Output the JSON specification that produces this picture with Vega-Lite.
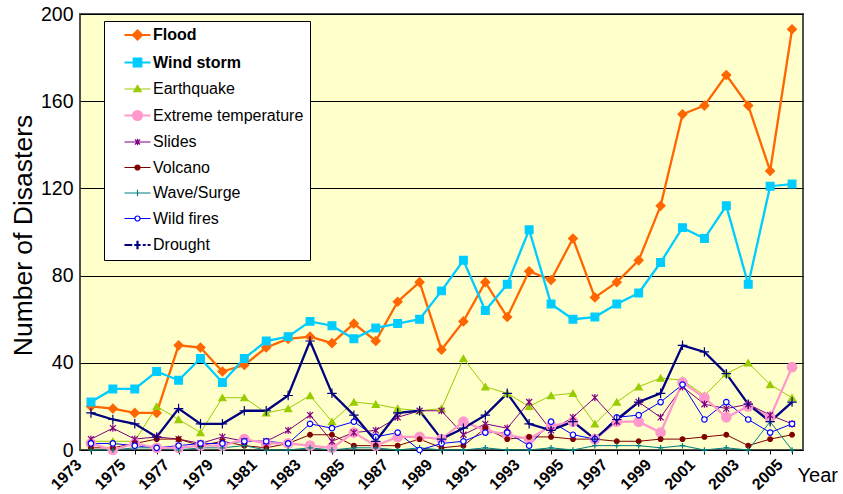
{
  "$schema": "https://vega.github.io/schema/vega-lite/v6.json",
  "width": 723,
  "height": 436,
  "autosize": {"type": "none"},
  "padding": {"left": 80, "top": 14, "right": 40, "bottom": 44},
  "background": "white",
  "config": {
    "font": "Liberation Sans",
    "view": {"fill": "#FFFFCC", "stroke": "#505050", "strokeWidth": 2},
    "axis": {"labelFont": "Liberation Sans", "titleFont": "Liberation Sans", "labelColor": "black", "titleColor": "black"}
  },
  "datasets": {
    "disasters": [
      {"year":1973,"type":"Flood","count":20},{"year":1974,"type":"Flood","count":19},{"year":1975,"type":"Flood","count":17},{"year":1976,"type":"Flood","count":17},{"year":1977,"type":"Flood","count":48},{"year":1978,"type":"Flood","count":47},{"year":1979,"type":"Flood","count":36},{"year":1980,"type":"Flood","count":39},{"year":1981,"type":"Flood","count":47},{"year":1982,"type":"Flood","count":51},{"year":1983,"type":"Flood","count":52},{"year":1984,"type":"Flood","count":49},{"year":1985,"type":"Flood","count":58},{"year":1986,"type":"Flood","count":50},{"year":1987,"type":"Flood","count":68},{"year":1988,"type":"Flood","count":77},{"year":1989,"type":"Flood","count":46},{"year":1990,"type":"Flood","count":59},{"year":1991,"type":"Flood","count":77},{"year":1992,"type":"Flood","count":61},{"year":1993,"type":"Flood","count":82},{"year":1994,"type":"Flood","count":78},{"year":1995,"type":"Flood","count":97},{"year":1996,"type":"Flood","count":70},{"year":1997,"type":"Flood","count":77},{"year":1998,"type":"Flood","count":87},{"year":1999,"type":"Flood","count":112},{"year":2000,"type":"Flood","count":154},{"year":2001,"type":"Flood","count":158},{"year":2002,"type":"Flood","count":172},{"year":2003,"type":"Flood","count":158},{"year":2004,"type":"Flood","count":128},{"year":2005,"type":"Flood","count":193},
      {"year":1973,"type":"Wind storm","count":22},{"year":1974,"type":"Wind storm","count":28},{"year":1975,"type":"Wind storm","count":28},{"year":1976,"type":"Wind storm","count":36},{"year":1977,"type":"Wind storm","count":32},{"year":1978,"type":"Wind storm","count":42},{"year":1979,"type":"Wind storm","count":31},{"year":1980,"type":"Wind storm","count":42},{"year":1981,"type":"Wind storm","count":50},{"year":1982,"type":"Wind storm","count":52},{"year":1983,"type":"Wind storm","count":59},{"year":1984,"type":"Wind storm","count":57},{"year":1985,"type":"Wind storm","count":51},{"year":1986,"type":"Wind storm","count":56},{"year":1987,"type":"Wind storm","count":58},{"year":1988,"type":"Wind storm","count":60},{"year":1989,"type":"Wind storm","count":73},{"year":1990,"type":"Wind storm","count":87},{"year":1991,"type":"Wind storm","count":64},{"year":1992,"type":"Wind storm","count":76},{"year":1993,"type":"Wind storm","count":101},{"year":1994,"type":"Wind storm","count":67},{"year":1995,"type":"Wind storm","count":60},{"year":1996,"type":"Wind storm","count":61},{"year":1997,"type":"Wind storm","count":67},{"year":1998,"type":"Wind storm","count":72},{"year":1999,"type":"Wind storm","count":86},{"year":2000,"type":"Wind storm","count":102},{"year":2001,"type":"Wind storm","count":97},{"year":2002,"type":"Wind storm","count":112},{"year":2003,"type":"Wind storm","count":76},{"year":2004,"type":"Wind storm","count":121},{"year":2005,"type":"Wind storm","count":122},
      {"year":1973,"type":"Earthquake","count":4},{"year":1974,"type":"Earthquake","count":4},{"year":1975,"type":"Earthquake","count":4},{"year":1976,"type":"Earthquake","count":20},{"year":1977,"type":"Earthquake","count":14},{"year":1978,"type":"Earthquake","count":8},{"year":1979,"type":"Earthquake","count":24},{"year":1980,"type":"Earthquake","count":24},{"year":1981,"type":"Earthquake","count":17},{"year":1982,"type":"Earthquake","count":19},{"year":1983,"type":"Earthquake","count":25},{"year":1984,"type":"Earthquake","count":13},{"year":1985,"type":"Earthquake","count":22},{"year":1986,"type":"Earthquake","count":21},{"year":1987,"type":"Earthquake","count":19},{"year":1988,"type":"Earthquake","count":18},{"year":1989,"type":"Earthquake","count":19},{"year":1990,"type":"Earthquake","count":42},{"year":1991,"type":"Earthquake","count":29},{"year":1992,"type":"Earthquake","count":26},{"year":1993,"type":"Earthquake","count":20},{"year":1994,"type":"Earthquake","count":25},{"year":1995,"type":"Earthquake","count":26},{"year":1996,"type":"Earthquake","count":12},{"year":1997,"type":"Earthquake","count":22},{"year":1998,"type":"Earthquake","count":29},{"year":1999,"type":"Earthquake","count":33},{"year":2000,"type":"Earthquake","count":32},{"year":2001,"type":"Earthquake","count":25},{"year":2002,"type":"Earthquake","count":35},{"year":2003,"type":"Earthquake","count":40},{"year":2004,"type":"Earthquake","count":30},{"year":2005,"type":"Earthquake","count":24},
      {"year":1973,"type":"Extreme temperature","count":3},{"year":1974,"type":"Extreme temperature","count":0},{"year":1975,"type":"Extreme temperature","count":3},{"year":1976,"type":"Extreme temperature","count":1},{"year":1977,"type":"Extreme temperature","count":1},{"year":1978,"type":"Extreme temperature","count":2},{"year":1979,"type":"Extreme temperature","count":2},{"year":1980,"type":"Extreme temperature","count":5},{"year":1981,"type":"Extreme temperature","count":3},{"year":1982,"type":"Extreme temperature","count":3},{"year":1983,"type":"Extreme temperature","count":2},{"year":1984,"type":"Extreme temperature","count":1},{"year":1985,"type":"Extreme temperature","count":8},{"year":1986,"type":"Extreme temperature","count":2},{"year":1987,"type":"Extreme temperature","count":6},{"year":1988,"type":"Extreme temperature","count":6},{"year":1989,"type":"Extreme temperature","count":5},{"year":1990,"type":"Extreme temperature","count":13},{"year":1991,"type":"Extreme temperature","count":9},{"year":1992,"type":"Extreme temperature","count":7},{"year":1993,"type":"Extreme temperature","count":5},{"year":1994,"type":"Extreme temperature","count":11},{"year":1995,"type":"Extreme temperature","count":13},{"year":1996,"type":"Extreme temperature","count":5},{"year":1997,"type":"Extreme temperature","count":13},{"year":1998,"type":"Extreme temperature","count":13},{"year":1999,"type":"Extreme temperature","count":8},{"year":2000,"type":"Extreme temperature","count":31},{"year":2001,"type":"Extreme temperature","count":24},{"year":2002,"type":"Extreme temperature","count":15},{"year":2003,"type":"Extreme temperature","count":20},{"year":2004,"type":"Extreme temperature","count":15},{"year":2005,"type":"Extreme temperature","count":38},
      {"year":1973,"type":"Slides","count":5},{"year":1974,"type":"Slides","count":10},{"year":1975,"type":"Slides","count":5},{"year":1976,"type":"Slides","count":6},{"year":1977,"type":"Slides","count":5},{"year":1978,"type":"Slides","count":3},{"year":1979,"type":"Slides","count":6},{"year":1980,"type":"Slides","count":4},{"year":1981,"type":"Slides","count":4},{"year":1982,"type":"Slides","count":9},{"year":1983,"type":"Slides","count":16},{"year":1984,"type":"Slides","count":4},{"year":1985,"type":"Slides","count":8},{"year":1986,"type":"Slides","count":9},{"year":1987,"type":"Slides","count":15},{"year":1988,"type":"Slides","count":18},{"year":1989,"type":"Slides","count":18},{"year":1990,"type":"Slides","count":7},{"year":1991,"type":"Slides","count":12},{"year":1992,"type":"Slides","count":10},{"year":1993,"type":"Slides","count":22},{"year":1994,"type":"Slides","count":9},{"year":1995,"type":"Slides","count":15},{"year":1996,"type":"Slides","count":24},{"year":1997,"type":"Slides","count":13},{"year":1998,"type":"Slides","count":22},{"year":1999,"type":"Slides","count":15},{"year":2000,"type":"Slides","count":29},{"year":2001,"type":"Slides","count":21},{"year":2002,"type":"Slides","count":19},{"year":2003,"type":"Slides","count":21},{"year":2004,"type":"Slides","count":16},{"year":2005,"type":"Slides","count":12},
      {"year":1973,"type":"Volcano","count":1},{"year":1974,"type":"Volcano","count":1},{"year":1975,"type":"Volcano","count":3},{"year":1976,"type":"Volcano","count":5},{"year":1977,"type":"Volcano","count":5},{"year":1978,"type":"Volcano","count":2},{"year":1979,"type":"Volcano","count":4},{"year":1980,"type":"Volcano","count":2},{"year":1981,"type":"Volcano","count":1},{"year":1982,"type":"Volcano","count":3},{"year":1983,"type":"Volcano","count":7},{"year":1984,"type":"Volcano","count":7},{"year":1985,"type":"Volcano","count":2},{"year":1986,"type":"Volcano","count":2},{"year":1987,"type":"Volcano","count":2},{"year":1988,"type":"Volcano","count":5},{"year":1989,"type":"Volcano","count":1},{"year":1990,"type":"Volcano","count":2},{"year":1991,"type":"Volcano","count":10},{"year":1992,"type":"Volcano","count":5},{"year":1993,"type":"Volcano","count":6},{"year":1994,"type":"Volcano","count":6},{"year":1995,"type":"Volcano","count":5},{"year":1996,"type":"Volcano","count":5},{"year":1997,"type":"Volcano","count":4},{"year":1998,"type":"Volcano","count":4},{"year":1999,"type":"Volcano","count":5},{"year":2000,"type":"Volcano","count":5},{"year":2001,"type":"Volcano","count":6},{"year":2002,"type":"Volcano","count":7},{"year":2003,"type":"Volcano","count":2},{"year":2004,"type":"Volcano","count":5},{"year":2005,"type":"Volcano","count":7},
      {"year":1973,"type":"Wave/Surge","count":0},{"year":1974,"type":"Wave/Surge","count":0},{"year":1975,"type":"Wave/Surge","count":1},{"year":1976,"type":"Wave/Surge","count":1},{"year":1977,"type":"Wave/Surge","count":0},{"year":1978,"type":"Wave/Surge","count":1},{"year":1979,"type":"Wave/Surge","count":1},{"year":1980,"type":"Wave/Surge","count":2},{"year":1981,"type":"Wave/Surge","count":0},{"year":1982,"type":"Wave/Surge","count":0},{"year":1983,"type":"Wave/Surge","count":1},{"year":1984,"type":"Wave/Surge","count":0},{"year":1985,"type":"Wave/Surge","count":1},{"year":1986,"type":"Wave/Surge","count":1},{"year":1987,"type":"Wave/Surge","count":0},{"year":1988,"type":"Wave/Surge","count":1},{"year":1989,"type":"Wave/Surge","count":0},{"year":1990,"type":"Wave/Surge","count":0},{"year":1991,"type":"Wave/Surge","count":1},{"year":1992,"type":"Wave/Surge","count":0},{"year":1993,"type":"Wave/Surge","count":0},{"year":1994,"type":"Wave/Surge","count":1},{"year":1995,"type":"Wave/Surge","count":0},{"year":1996,"type":"Wave/Surge","count":2},{"year":1997,"type":"Wave/Surge","count":2},{"year":1998,"type":"Wave/Surge","count":2},{"year":1999,"type":"Wave/Surge","count":1},{"year":2000,"type":"Wave/Surge","count":2},{"year":2001,"type":"Wave/Surge","count":0},{"year":2002,"type":"Wave/Surge","count":1},{"year":2003,"type":"Wave/Surge","count":0},{"year":2004,"type":"Wave/Surge","count":13},{"year":2005,"type":"Wave/Surge","count":0},
      {"year":1973,"type":"Wild fires","count":3},{"year":1974,"type":"Wild fires","count":3},{"year":1975,"type":"Wild fires","count":2},{"year":1976,"type":"Wild fires","count":1},{"year":1977,"type":"Wild fires","count":2},{"year":1978,"type":"Wild fires","count":3},{"year":1979,"type":"Wild fires","count":3},{"year":1980,"type":"Wild fires","count":4},{"year":1981,"type":"Wild fires","count":4},{"year":1982,"type":"Wild fires","count":3},{"year":1983,"type":"Wild fires","count":12},{"year":1984,"type":"Wild fires","count":10},{"year":1985,"type":"Wild fires","count":13},{"year":1986,"type":"Wild fires","count":6},{"year":1987,"type":"Wild fires","count":8},{"year":1988,"type":"Wild fires","count":0},{"year":1989,"type":"Wild fires","count":3},{"year":1990,"type":"Wild fires","count":4},{"year":1991,"type":"Wild fires","count":8},{"year":1992,"type":"Wild fires","count":8},{"year":1993,"type":"Wild fires","count":2},{"year":1994,"type":"Wild fires","count":13},{"year":1995,"type":"Wild fires","count":7},{"year":1996,"type":"Wild fires","count":5},{"year":1997,"type":"Wild fires","count":15},{"year":1998,"type":"Wild fires","count":16},{"year":1999,"type":"Wild fires","count":22},{"year":2000,"type":"Wild fires","count":30},{"year":2001,"type":"Wild fires","count":14},{"year":2002,"type":"Wild fires","count":22},{"year":2003,"type":"Wild fires","count":14},{"year":2004,"type":"Wild fires","count":8},{"year":2005,"type":"Wild fires","count":12},
      {"year":1973,"type":"Drought","count":17},{"year":1974,"type":"Drought","count":14},{"year":1975,"type":"Drought","count":12},{"year":1976,"type":"Drought","count":6},{"year":1977,"type":"Drought","count":19},{"year":1978,"type":"Drought","count":12},{"year":1979,"type":"Drought","count":12},{"year":1980,"type":"Drought","count":18},{"year":1981,"type":"Drought","count":18},{"year":1982,"type":"Drought","count":25},{"year":1983,"type":"Drought","count":50},{"year":1984,"type":"Drought","count":26},{"year":1985,"type":"Drought","count":16},{"year":1986,"type":"Drought","count":4},{"year":1987,"type":"Drought","count":17},{"year":1988,"type":"Drought","count":18},{"year":1989,"type":"Drought","count":5},{"year":1990,"type":"Drought","count":10},{"year":1991,"type":"Drought","count":16},{"year":1992,"type":"Drought","count":26},{"year":1993,"type":"Drought","count":12},{"year":1994,"type":"Drought","count":9},{"year":1995,"type":"Drought","count":13},{"year":1996,"type":"Drought","count":5},{"year":1997,"type":"Drought","count":14},{"year":1998,"type":"Drought","count":22},{"year":1999,"type":"Drought","count":26},{"year":2000,"type":"Drought","count":48},{"year":2001,"type":"Drought","count":45},{"year":2002,"type":"Drought","count":35},{"year":2003,"type":"Drought","count":21},{"year":2004,"type":"Drought","count":13},{"year":2005,"type":"Drought","count":22}
    ]
  },
  "data": {"name": "disasters"},
  "encoding": {
    "x": {
      "field": "year", "type": "ordinal",
      "scale": {"padding": 0.5},
      "axis": {
        "title": "Year", "titleFontSize": 20, "titleFontWeight": "normal",
        "titleAlign": "left", "titleBaseline": "alphabetic", "titleAngle": 0,
        "titleX": 717, "titleY": 31,
        "labelAngle": -45, "labelFontWeight": "bold", "labelFontSize": 16,
        "labelExpr": "datum.value % 2 == 1 ? datum.label : ''",
        "labelOverlap": false, "labelFlush": false, "labelPadding": 2, "labelOffset": -18,
        "tickColor": "black", "tickSize": 4, "domain": false, "grid": false
      }
    },
    "y": {
      "field": "count", "type": "quantitative",
      "scale": {"domain": [0, 200], "nice": false},
      "axis": {
        "title": "Number of Disasters", "titleFontSize": 26.5, "titleFontWeight": "normal",
        "titleX": -57, "titleY": 221, "titleBaseline": "middle", "titleAlign": "center",
        "values": [0, 40, 80, 120, 160, 200], "labelFontSize": 19.5, "labelPadding": 7,
        "ticks": false, "domain": false, "grid": true, "gridColor": "black", "gridWidth": 1, "gridOpacity": 1
      }
    }
  },
  "layer": [
    {
      "transform": [{"filter": {"field": "type", "oneOf": ["Earthquake", "Slides", "Volcano", "Wave/Surge", "Wild fires"]}}],
      "mark": {"type": "line", "strokeWidth": 1},
      "encoding": {
        "stroke": {
          "field": "type", "type": "nominal", "legend": null,
          "scale": {
            "domain": ["Drought", "Wild fires", "Wave/Surge", "Volcano", "Slides", "Extreme temperature", "Earthquake", "Wind storm", "Flood"],
            "range": ["#000080", "#0000FF", "#008080", "#800000", "#800080", "#FF99CC", "#99CC00", "#00CCFF", "#FF6600"]
          }
        }
      }
    },
    {
      "transform": [{"filter": {"field": "type", "oneOf": ["Flood", "Wind storm", "Extreme temperature", "Drought"]}}],
      "mark": {"type": "line", "strokeWidth": 2.3},
      "encoding": {
        "stroke": {"field": "type", "type": "nominal", "legend": null}
      }
    },
    {
      "mark": {"type": "point", "filled": false, "strokeWidth": 1.2},
      "encoding": {
        "shape": {
          "field": "type", "type": "nominal", "legend": null,
          "scale": {
            "domain": ["Drought", "Wild fires", "Wave/Surge", "Volcano", "Slides", "Extreme temperature", "Earthquake", "Wind storm", "Flood"],
            "range": ["M-1,0L1,0M0,-1L0,1", "circle", "M-1,0L1,0M0,-1L0,1", "circle", "M-1,-1L1,1M-1,1L1,-1M0,-1.2L0,1.2", "circle", "triangle-up", "square", "diamond"]
          }
        },
        "opacity": {
          "field": "type", "type": "nominal",
          "scale": {
            "type": "ordinal",
            "domain": ["Flood", "Wind storm", "Earthquake", "Extreme temperature", "Slides", "Volcano", "Wave/Surge", "Wild fires", "Drought"],
            "range": [1, 1, 1, 1, 1, 1, 1, 1, 1]
          },
          "legend": {
            "title": null, "orient": "none", "legendX": 24, "legendY": 7,
            "fillColor": "white", "strokeColor": "black", "padding": 6,
            "symbolOffset": 19.5, "symbolSize": 441, "labelOffset": 7.5, "rowPadding": 9.5,
            "labelFont": "Liberation Sans", "labelFontSize": 16, "labelColor": "black",
            "symbolOpacity": 1,
            "labelFontWeight": {"expr": "datum.label === 'Flood' || datum.label === 'Wind storm' ? 'bold' : 'normal'"},
            "symbolType": {"expr": "datum.value === 'Flood' ? 'M-1.24,0L1.24,0M0,-0.43L0.43,0L0,0.43L-0.43,0Z' : datum.value === 'Wind storm' ? 'M-1.24,0L1.24,0M-0.36,-0.36L0.36,-0.36L0.36,0.36L-0.36,0.36Z' : datum.value === 'Earthquake' ? 'M-1.24,0L1.24,0M0,-0.34L0.36,0.26L-0.36,0.26Z' : datum.value === 'Extreme temperature' ? 'M-1.24,0L1.24,0M-0.43,0A0.43,0.43,0,1,1,0.43,0A0.43,0.43,0,1,1,-0.43,0Z' : datum.value === 'Slides' ? 'M-1.24,0L1.24,0M-0.24,-0.24L0.24,0.24M-0.24,0.24L0.24,-0.24M0,-0.3L0,0.3' : datum.value === 'Volcano' ? 'M-1.24,0L1.24,0M-0.24,0A0.24,0.24,0,1,1,0.24,0A0.24,0.24,0,1,1,-0.24,0Z' : datum.value === 'Wave/Surge' ? 'M-1.24,0L1.24,0M0,-0.3L0,0.3' : datum.value === 'Wild fires' ? 'M-1.24,0L-0.24,0M0.24,0L1.24,0M-0.24,0A0.24,0.24,0,1,1,0.24,0A0.24,0.24,0,1,1,-0.24,0Z' : 'M-1.24,0L-0.5,0M-0.3,0L0.3,0M0.5,0L0.78,0M0.96,0L1.24,0M0,-0.4L0,0.4'"},
            "symbolFillColor": {"expr": "datum.value === 'Flood' ? '#FF6600' : datum.value === 'Wind storm' ? '#00CCFF' : datum.value === 'Earthquake' ? '#99CC00' : datum.value === 'Extreme temperature' ? '#FF99CC' : datum.value === 'Volcano' ? '#800000' : datum.value === 'Wild fires' ? 'white' : 'transparent'"},
            "symbolStrokeColor": {"expr": "datum.value === 'Flood' ? '#FF6600' : datum.value === 'Wind storm' ? '#00CCFF' : datum.value === 'Earthquake' ? '#99CC00' : datum.value === 'Extreme temperature' ? '#FF99CC' : datum.value === 'Slides' ? '#800080' : datum.value === 'Volcano' ? '#800000' : datum.value === 'Wave/Surge' ? '#008080' : datum.value === 'Wild fires' ? '#0000FF' : '#000080'"},
            "symbolStrokeWidth": {"expr": "datum.value === 'Flood' || datum.value === 'Wind storm' || datum.value === 'Extreme temperature' || datum.value === 'Drought' ? 2.2 : 1.2"}
          }
        },
        "fill": {
          "field": "type", "type": "nominal", "legend": null,
          "scale": {
            "domain": ["Drought", "Wild fires", "Wave/Surge", "Volcano", "Slides", "Extreme temperature", "Earthquake", "Wind storm", "Flood"],
            "range": ["transparent", "white", "transparent", "#800000", "transparent", "#FF99CC", "#99CC00", "#00CCFF", "#FF6600"]
          }
        },
        "stroke": {"field": "type", "type": "nominal", "legend": null},
        "size": {
          "field": "type", "type": "nominal", "legend": null,
          "scale": {
            "type": "ordinal",
            "domain": ["Drought", "Wild fires", "Wave/Surge", "Volcano", "Slides", "Extreme temperature", "Earthquake", "Wind storm", "Flood"],
            "range": [90, 30, 30, 22, 36, 90, 50, 60, 80]
          }
        }
      }
    }
  ]
}
